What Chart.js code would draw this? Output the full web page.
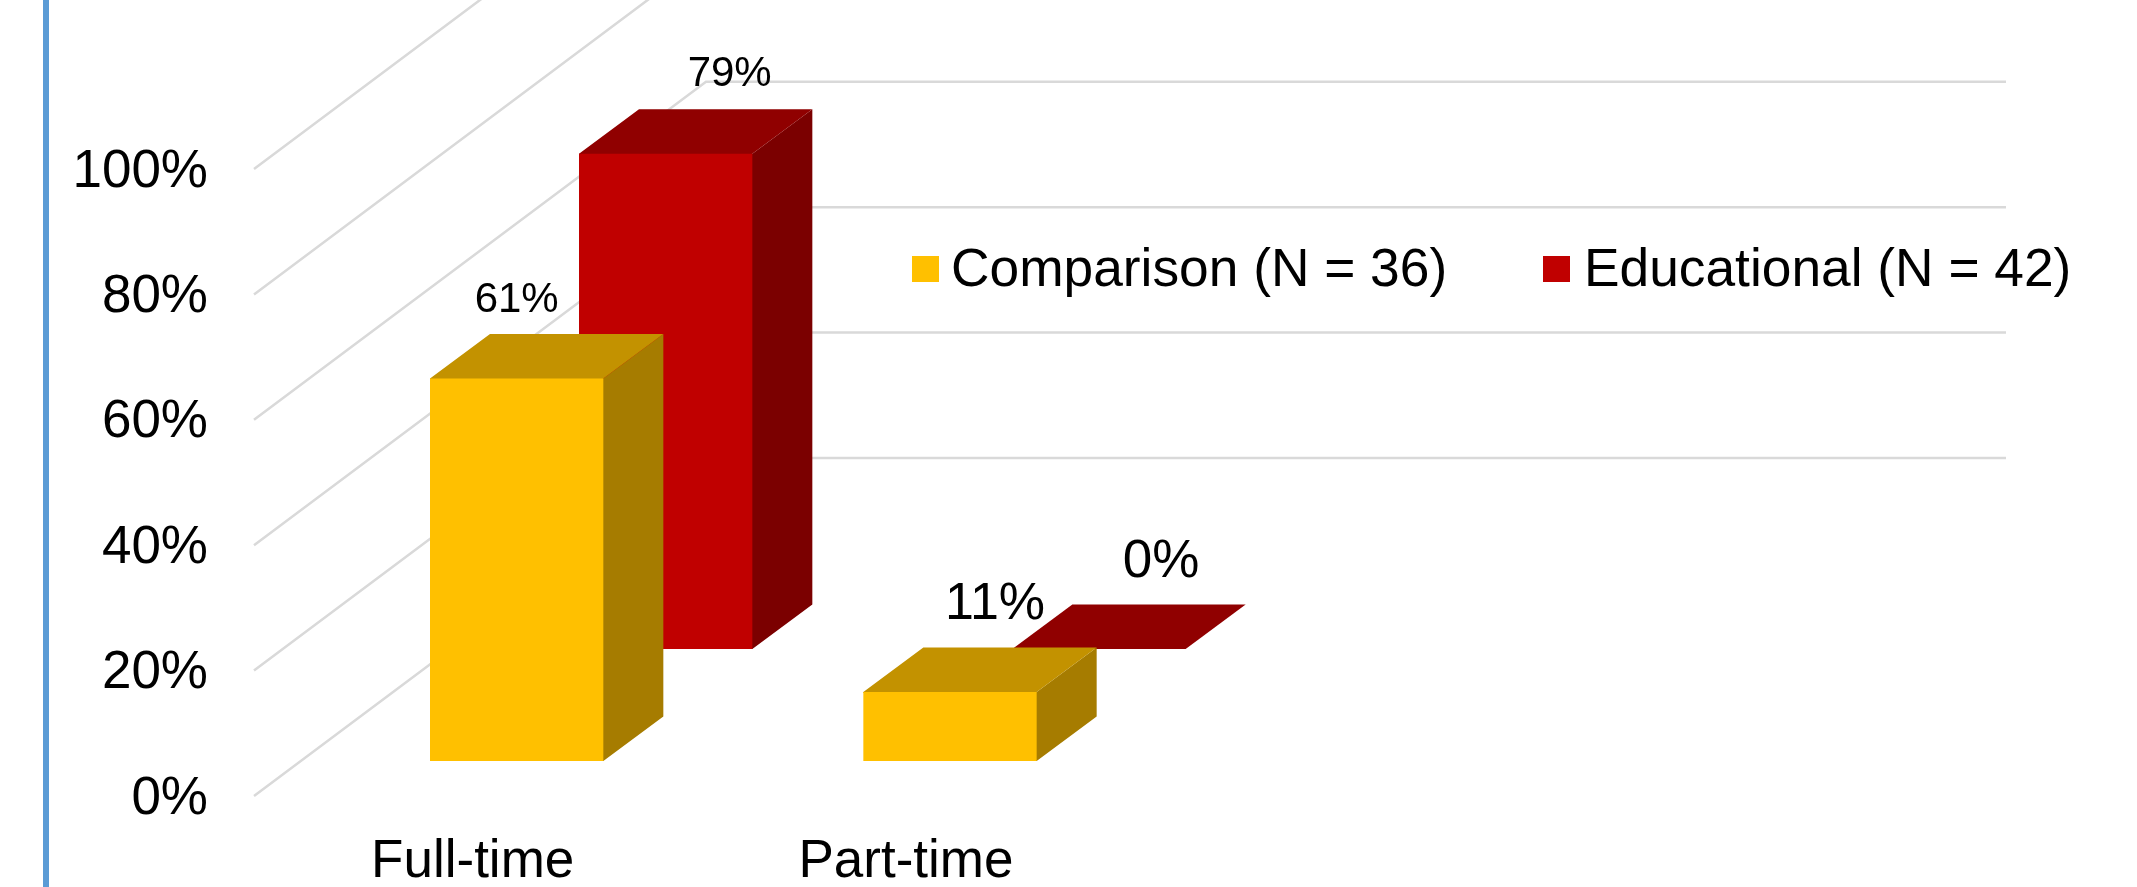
<!DOCTYPE html>
<html>
<head>
<meta charset="utf-8">
<title>Employment status</title>
<script src="https://cdn.jsdelivr.net/npm/chart.js@4"></script>
<style>
  html, body { margin: 0; padding: 0; background: #fff; overflow: hidden; }
  canvas { display: block; }
</style>
</head>
<body>
<canvas id="myChart" width="2137" height="887"></canvas>
<script>
let categories = ['Full-time', 'Part-time', ''];   // third slot stays empty
let comparison = [61, 11];
let educational = [79, 0];
let seriesNames = ['Comparison (N = 36)', 'Educational (N = 42)'];
let yTicks = [0, 20, 40, 60, 80, 100];

const FONT = '"Liberation Sans", Arial, sans-serif';

// fake 3D setup, all in pixels
const wallDepth = { x: 452, y: 338 };          // front of the floor to the back wall
const barDepth = { x: 60, y: 44.5 };           // how deep one bar looks
const rowOffset = [{ x: 46, y: 35 }, { x: 195, y: 147 }];   // row of each series on the floor
const faceColors = [
  { top: '#c39200', side: '#a67c00' },
  { top: '#900000', side: '#7b0000' },
];
// value labels sit by hand, [dx, dy from bar top, font size] per series and category
const labelSpots = [
  [[0, -67, 42], [45, -73, 52]],
  [[64, -68, 42], [62, -72, 53]],
];
const legendSpots = [
  { box: 912, text: 951 },
  { box: 1543, text: 1584 },
];

// blue rule down the left side
const sideRule = {
  id: 'sideRule',
  beforeDraw(chart) {
    chart.ctx.fillStyle = '#5b9bd5';
    chart.ctx.fillRect(43, 0, 6, chart.height);
  }
};

// gridlines run along the side wall and then across the back wall
const wallGrid = {
  id: 'wallGrid',
  beforeDatasetsDraw(chart) {
    const ctx = chart.ctx;
    const yScale = chart.scales.y;
    const area = chart.chartArea;
    ctx.save();
    ctx.strokeStyle = '#d9d9d9';
    ctx.lineWidth = 2.5;
    yTicks.forEach(v => {
      const y = yScale.getPixelForValue(v);
      ctx.beginPath();
      ctx.moveTo(area.left, y);
      ctx.lineTo(area.left + wallDepth.x, y - wallDepth.y);
      ctx.lineTo(area.right + wallDepth.x, y - wallDepth.y);
      ctx.stroke();
    });
    ctx.restore();
  }
};

// moves each series back onto its row and adds the side and top faces,
// the front face is the normal bar drawn by Chart.js
const boxBars = {
  id: 'boxBars',
  beforeDatasetDraw(chart, args) {
    const ctx = chart.ctx;
    const off = rowOffset[args.index];
    const colors = faceColors[args.index];
    ctx.save();
    ctx.translate(off.x, -off.y);
    args.meta.data.forEach(bar => {
      const l = bar.x - bar.width / 2;
      const r = bar.x + bar.width / 2;
      // both faces tuck 1px under the front so no seam shows
      ctx.fillStyle = colors.side;
      ctx.beginPath();
      ctx.moveTo(r - 1, bar.y);
      ctx.lineTo(r, bar.y);
      ctx.lineTo(r + barDepth.x, bar.y - barDepth.y);
      ctx.lineTo(r + barDepth.x, bar.base - barDepth.y);
      ctx.lineTo(r, bar.base);
      ctx.lineTo(r - 1, bar.base);
      ctx.closePath();
      ctx.fill();
      ctx.fillStyle = colors.top;
      ctx.beginPath();
      ctx.moveTo(l, bar.y + (bar.base > bar.y + 1 ? 1 : 0));
      ctx.lineTo(l, bar.y);
      ctx.lineTo(l + barDepth.x, bar.y - barDepth.y);
      ctx.lineTo(r + barDepth.x, bar.y - barDepth.y);
      ctx.lineTo(r, bar.y);
      ctx.lineTo(r, bar.y + (bar.base > bar.y + 1 ? 1 : 0));
      ctx.closePath();
      ctx.fill();
    });
  },
  afterDatasetDraw(chart) {
    chart.ctx.restore();
  },
  afterDatasetsDraw(chart) {
    const ctx = chart.ctx;
    ctx.save();
    ctx.fillStyle = '#000';
    ctx.textAlign = 'center';
    ctx.textBaseline = 'alphabetic';
    chart.data.datasets.forEach((ds, i) => {
      chart.getDatasetMeta(i).data.forEach((bar, j) => {
        const spot = labelSpots[i][j];
        ctx.font = spot[2] + 'px ' + FONT;
        ctx.fillText(ds.data[j] + '%', bar.x + rowOffset[i].x + spot[0], bar.y - rowOffset[i].y + spot[1]);
      });
    });
    ctx.restore();
  }
};

// legend floats over the back wall
const floatLegend = {
  id: 'floatLegend',
  afterDraw(chart) {
    const ctx = chart.ctx;
    ctx.save();
    ctx.font = '53.3px ' + FONT;
    ctx.textAlign = 'left';
    ctx.textBaseline = 'alphabetic';
    chart.data.datasets.forEach((ds, i) => {
      ctx.fillStyle = ds.backgroundColor;
      ctx.fillRect(legendSpots[i].box, 256, 27, 26);
      ctx.fillStyle = '#000';
      ctx.fillText(ds.label, legendSpots[i].text, 286);
    });
    ctx.restore();
  }
};

new Chart(document.getElementById('myChart'), {
  type: 'bar',
  data: {
    labels: categories,
    datasets: [
      { label: seriesNames[0], data: comparison, backgroundColor: '#ffc000' },
      { label: seriesNames[1], data: educational, backgroundColor: '#c00000' },
    ],
  },
  plugins: [sideRule, wallGrid, boxBars, floatLegend],
  options: {
    responsive: false,
    animation: false,
    layout: { padding: { top: 169, right: 583 } },
    datasets: {
      bar: { grouped: false, clip: false, barPercentage: 0.4, categoryPercentage: 1 },
    },
    plugins: {
      legend: { display: false },
      title: { display: false },
      tooltip: { enabled: false },
    },
    scales: {
      x: {
        grid: { display: false },
        border: { display: false },
        afterFit: s => { s.height = 91; },
        ticks: {
          color: '#000',
          font: { family: FONT, size: 53 },
          padding: 27,
          labelOffset: 2,
          autoSkip: false,
          maxRotation: 0,
        },
      },
      y: {
        min: 0,
        max: 100,
        grid: { display: false },
        border: { display: false },
        afterFit: s => { s.width = 254; },
        afterBuildTicks: s => { s.ticks = yTicks.map(v => ({ value: v })); },
        ticks: {
          color: '#000',
          font: { family: FONT, size: 53 },
          padding: 38,
          labelOffset: 3,
          callback: v => v + '%',
        },
      },
    },
  },
});
</script>
</body>
</html>
